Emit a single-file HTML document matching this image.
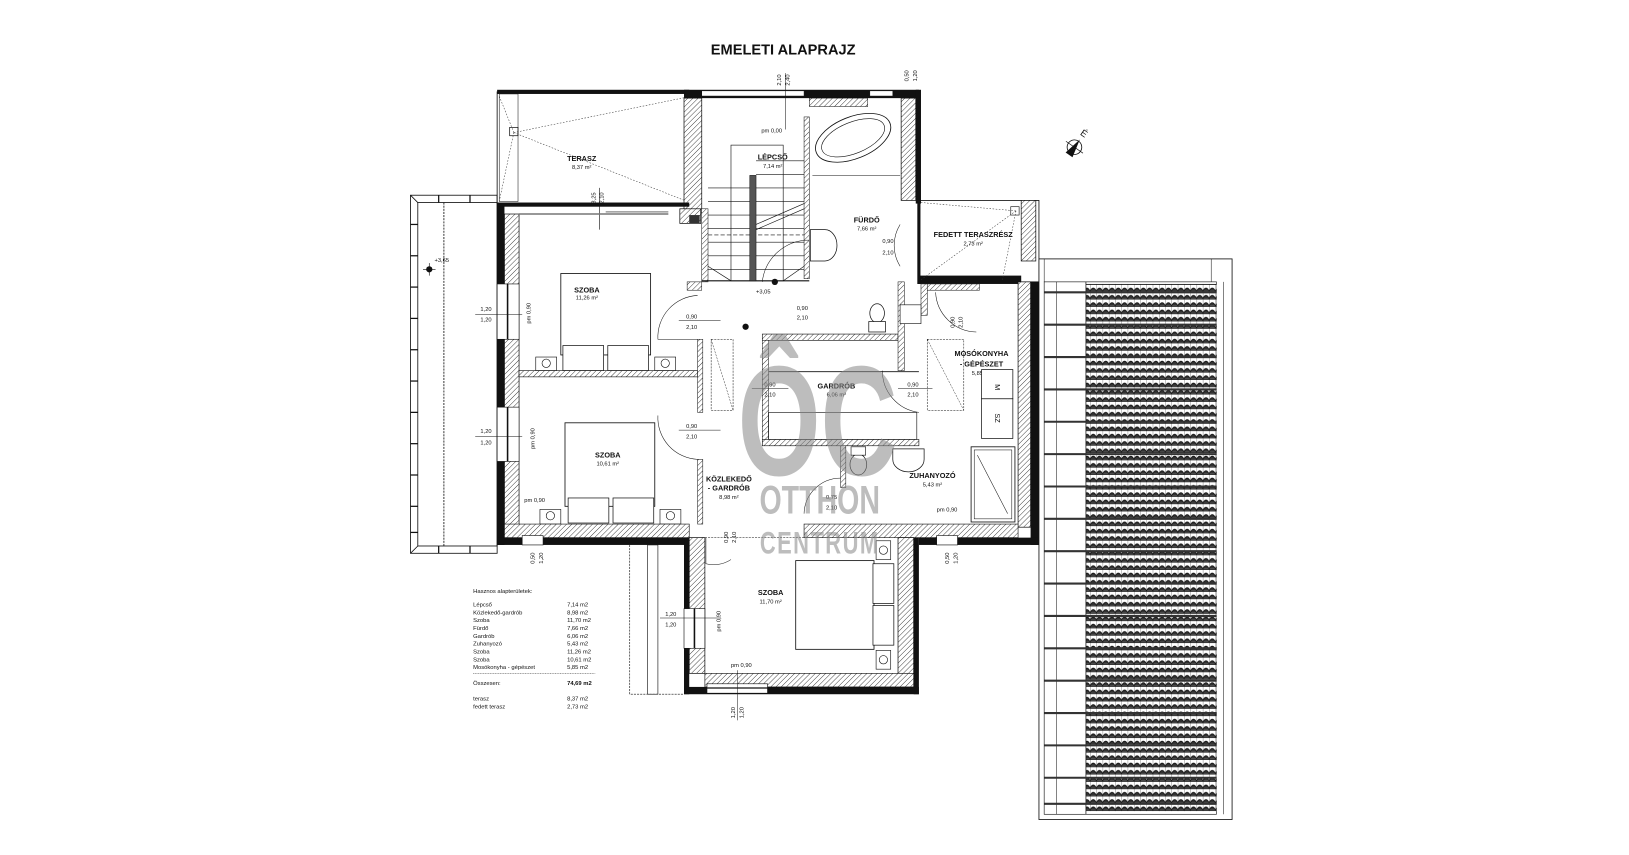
<!DOCTYPE html>
<html><head><meta charset="utf-8"><style>
html,body{margin:0;padding:0;background:#fff;}
svg{display:block;}
text{font-family:"Liberation Sans",sans-serif;fill:#111;}
.n{font-size:7px;font-weight:bold;text-anchor:middle;}
.a{font-size:5.5px;text-anchor:middle;}
.d{font-size:5.5px;}
.t{font-size:5.6px;}
</style></head><body>
<svg width="1629" height="855" viewBox="0 0 1560 819" xmlns="http://www.w3.org/2000/svg">
<defs>
<pattern id="h" width="3.5" height="3.5" patternUnits="userSpaceOnUse" patternTransform="rotate(45)">
<rect width="3.5" height="3.5" fill="#fff"/><line x1="0" y1="0" x2="0" y2="3.5" stroke="#222" stroke-width="0.8"/></pattern>
<pattern id="tile" width="6" height="7" patternUnits="userSpaceOnUse">
<rect width="6" height="7" fill="#fff"/><path d="M0 6 Q3 0 6 6" fill="#333" stroke="#111" stroke-width="0.8"/><line x1="0" y1="6.5" x2="6" y2="6.5" stroke="#111" stroke-width="0.8"/><line x1="0" y1="0" x2="0" y2="7" stroke="#111" stroke-width="0.5"/></pattern>
</defs>
<rect width="1560" height="819" fill="#fff"/>
<text x="750" y="52" style="font-size:14px;font-weight:bold;text-anchor:middle">EMELETI ALAPRAJZ</text>

<!-- left balcony -->
<g fill="none" stroke="#111" stroke-width="0.8">
<rect x="393" y="187" width="83" height="343"/>
<rect x="400" y="194" width="76" height="329"/>
<line x1="425" y1="194" x2="425" y2="523" stroke-dasharray="2,1"/>
<path d="M393 187 L400 194 M393 530 L400 523"/>
</g>
<g stroke="#111" stroke-width="1.2">
<line x1="393" y1="215" x2="400" y2="215"/><line x1="393" y1="245" x2="400" y2="245"/><line x1="393" y1="275" x2="400" y2="275"/><line x1="393" y1="305" x2="400" y2="305"/><line x1="393" y1="335" x2="400" y2="335"/><line x1="393" y1="365" x2="400" y2="365"/><line x1="393" y1="395" x2="400" y2="395"/><line x1="393" y1="425" x2="400" y2="425"/><line x1="393" y1="455" x2="400" y2="455"/><line x1="393" y1="485" x2="400" y2="485"/><line x1="393" y1="510" x2="400" y2="510"/>
<line x1="420" y1="187" x2="420" y2="194"/><line x1="450" y1="187" x2="450" y2="194"/><line x1="420" y1="523" x2="420" y2="530"/><line x1="450" y1="523" x2="450" y2="530"/>
</g>
<circle cx="411" cy="258" r="3" fill="#111"/><line x1="405" y1="258" x2="417" y2="258" stroke="#111" stroke-width="0.6"/><line x1="411" y1="252" x2="411" y2="264" stroke="#111" stroke-width="0.6"/>
<text class="d" x="416" y="251">+3,65</text>

<!-- terrace -->
<rect x="476" y="88" width="184" height="107" fill="none" stroke="#111" stroke-width="0.8"/>
<rect x="476" y="86" width="184" height="4" fill="#111"/>
<rect x="478" y="90" width="18" height="103" fill="none" stroke="#111" stroke-width="0.5"/>
<g stroke="#333" stroke-width="0.5" stroke-dasharray="1.5,1.5" fill="none">
<path d="M492 127 L658 93 M492 127 L658 193 M492 127 L478 92 M492 127 L478 193"/>
</g>
<rect x="488" y="122" width="8" height="8" fill="none" stroke="#111" stroke-width="0.7"/>
<text class="n" x="557" y="154">TERASZ</text><text class="a" x="557" y="162">8,37 m²</text>
<text class="d" transform="translate(570,195) rotate(-90)">3,25</text><text class="d" transform="translate(578,195) rotate(-90)">2,10</text>
<line x1="574" y1="180" x2="574" y2="220" stroke="#111" stroke-width="0.6"/>

<!-- stair block + bath walls -->
<rect x="655" y="86" width="225" height="8" fill="#111"/>
<rect x="672" y="87" width="98" height="5" fill="#fff" stroke="#111" stroke-width="0.5"/>
<rect x="833" y="87" width="22" height="5" fill="#fff" stroke="#111" stroke-width="0.5"/>
<rect x="655" y="94" width="17" height="110" fill="url(#h)" stroke="#111" stroke-width="0.7"/>
<rect x="651" y="200" width="20" height="14" fill="url(#h)" stroke="#111" stroke-width="0.7"/>
<rect x="660" y="206" width="10" height="8" fill="#333"/>
<rect x="672" y="200" width="6" height="70" fill="url(#h)" stroke="#111" stroke-width="0.5"/>
<rect x="770" y="112" width="5" height="155" fill="url(#h)" stroke="#111" stroke-width="0.5"/>
<rect x="775" y="94" width="56" height="8" fill="url(#h)" stroke="#111" stroke-width="0.5"/>
<rect x="863" y="94" width="14" height="98" fill="url(#h)" stroke="#111" stroke-width="0.7"/>
<rect x="877" y="86" width="5" height="109" fill="#111"/>
<!-- stairs -->
<g stroke="#111" stroke-width="0.6" fill="none">
<rect x="700" y="139" width="50" height="130"/>
<line x1="678" y1="180" x2="770" y2="180"/><line x1="678" y1="193" x2="770" y2="193"/><line x1="678" y1="206" x2="770" y2="206"/><line x1="678" y1="219" x2="770" y2="219"/><line x1="678" y1="232" x2="770" y2="232"/><line x1="678" y1="245" x2="770" y2="245"/><line x1="678" y1="258" x2="770" y2="258"/>
<line x1="724" y1="167" x2="770" y2="167"/><line x1="724" y1="154" x2="770" y2="154"/>
<path d="M724 215 L770 195 M724 220 L770 200"/>
<line x1="678" y1="225" x2="770" y2="225" stroke-dasharray="4,2"/>
<path d="M678 255 L700 269 M750 269 L770 255"/>
<line x1="672" y1="269" x2="775" y2="269" stroke-width="1"/>
</g>
<rect x="718" y="168" width="6" height="101" fill="#555" stroke="#111" stroke-width="0.5"/>
<circle cx="742" cy="270" r="3" fill="#111"/>
<text class="a" x="739" y="127">pm 0,00</text>
<line x1="752" y1="70" x2="752" y2="124" stroke="#111" stroke-width="0.5"/>
<text class="d" transform="translate(748,82) rotate(-90)">2,10</text><text class="d" transform="translate(756,82) rotate(-90)">2,40</text>
<text class="n" x="740" y="153">LÉPCSŐ</text><text class="a" x="740" y="161">7,14 m²</text>
<text class="d" x="724" y="281">+3,05</text>
<circle cx="714" cy="313" r="3" fill="#111"/>
<!-- bath -->
<ellipse cx="817" cy="132" rx="38" ry="20" transform="rotate(-22 817 132)" fill="#fff" stroke="#111" stroke-width="0.8"/>
<ellipse cx="817" cy="132" rx="32" ry="15" transform="rotate(-22 817 132)" fill="none" stroke="#111" stroke-width="0.6"/>
<line x1="778" y1="168" x2="862" y2="168" stroke="#111" stroke-width="0.5"/>
<text class="n" x="830" y="213">FÜRDŐ</text><text class="a" x="830" y="221">7,66 m²</text>
<path d="M776 220 L790 220 A10 13 0 0 1 790 250 L776 250 Z" fill="#fff" stroke="#111" stroke-width="0.7"/>
<text class="d" transform="translate(870,78) rotate(-90)">0,50</text><text class="d" transform="translate(878,78) rotate(-90)">1,20</text>
<!-- fedett terasz -->
<rect x="880" y="192" width="115" height="78" fill="none" stroke="#111" stroke-width="0.8"/>
<rect x="978" y="192" width="14" height="58" fill="url(#h)" stroke="#111" stroke-width="0.7"/>
<rect x="880" y="264" width="98" height="8" fill="#111"/>
<path d="M880 192 L880 272" stroke="#111" stroke-width="3"/>
<g stroke="#333" stroke-width="0.5" stroke-dasharray="1.5,1.5" fill="none"><path d="M973 202 L882 194 M973 202 L960 268 M973 202 L882 268"/></g>
<rect x="968" y="198" width="8" height="8" fill="none" stroke="#111" stroke-width="0.6"/>
<text class="n" x="932" y="227">FEDETT TERASZRÉSZ</text><text class="a" x="932" y="235">2,73 m²</text>
<path d="M862 215 A38 38 0 0 0 862 255" fill="none" stroke="#111" stroke-width="0.5"/>
<text class="d" x="845" y="233">0,90</text><text class="d" x="845" y="244">2,10</text>

<!-- bedrooms block -->
<rect x="476" y="195" width="7" height="327" fill="#111"/>
<rect x="483" y="205" width="14" height="305" fill="url(#h)" stroke="#111" stroke-width="0.7"/>
<rect x="476" y="272" width="21" height="53" fill="#fff" stroke="#111" stroke-width="0.6"/>
<line x1="486" y1="272" x2="486" y2="325" stroke="#111" stroke-width="1.5"/>
<rect x="476" y="390" width="21" height="52" fill="#fff" stroke="#111" stroke-width="0.6"/>
<line x1="486" y1="390" x2="486" y2="442" stroke="#111" stroke-width="1.5"/>
<rect x="476" y="194" width="184" height="4" fill="#111"/>
<line x1="497" y1="205" x2="640" y2="205" stroke="#777" stroke-width="1.5"/>
<line x1="580" y1="203" x2="640" y2="203" stroke="#111" stroke-width="0.6"/>
<text class="d" x="460" y="298">1,20</text><text class="d" x="460" y="308">1,20</text><line x1="455" y1="301" x2="500" y2="301" stroke="#111" stroke-width="0.5"/>
<text class="d" x="460" y="415">1,20</text><text class="d" x="460" y="426">1,20</text><line x1="455" y1="418" x2="500" y2="418" stroke="#111" stroke-width="0.5"/>
<text class="d" transform="translate(508,310) rotate(-90)">pm 0,90</text>
<text class="d" transform="translate(512,430) rotate(-90)">pm 0,90</text>
<!-- bed 1 -->
<rect x="537" y="262" width="86" height="78" fill="#fff" stroke="#111" stroke-width="0.8"/>
<rect x="539" y="331" width="39" height="24" fill="#fff" stroke="#111" stroke-width="0.7"/>
<rect x="582" y="331" width="39" height="24" fill="#fff" stroke="#111" stroke-width="0.7"/>
<rect x="513" y="342" width="20" height="13" fill="#fff" stroke="#111" stroke-width="0.6"/><circle cx="523" cy="348" r="4" fill="none" stroke="#111" stroke-width="0.6"/>
<rect x="627" y="342" width="20" height="13" fill="#fff" stroke="#111" stroke-width="0.6"/><circle cx="637" cy="348" r="4" fill="none" stroke="#111" stroke-width="0.6"/>
<text class="n" x="562" y="280">SZOBA</text><text class="a" x="562" y="287">11,26 m²</text>
<rect x="497" y="355" width="171" height="6" fill="url(#h)" stroke="#111" stroke-width="0.6"/>
<!-- bed 2 -->
<rect x="541" y="405" width="86" height="80" fill="#fff" stroke="#111" stroke-width="0.8"/>
<rect x="544" y="477" width="39" height="24" fill="#fff" stroke="#111" stroke-width="0.7"/>
<rect x="587" y="477" width="39" height="24" fill="#fff" stroke="#111" stroke-width="0.7"/>
<rect x="517" y="488" width="20" height="14" fill="#fff" stroke="#111" stroke-width="0.6"/><circle cx="527" cy="494" r="4" fill="none" stroke="#111" stroke-width="0.6"/>
<rect x="632" y="488" width="20" height="14" fill="#fff" stroke="#111" stroke-width="0.6"/><circle cx="642" cy="494" r="4" fill="none" stroke="#111" stroke-width="0.6"/>
<text class="n" x="582" y="438">SZOBA</text><text class="a" x="582" y="446">10,61 m²</text>
<text class="d" x="502" y="481">pm 0,90</text>
<!-- bottom wall left part -->
<rect x="483" y="502" width="177" height="13" fill="url(#h)" stroke="#111" stroke-width="0.6"/>
<rect x="476" y="515" width="184" height="7" fill="#111"/>
<rect x="500" y="513" width="20" height="9" fill="#fff" stroke="#111" stroke-width="0.6"/>
<text class="d" transform="translate(512,540) rotate(-90)">0,50</text><text class="d" transform="translate(520,540) rotate(-90)">1,20</text>

<!-- corridor walls -->
<rect x="658" y="270" width="14" height="8" fill="url(#h)" stroke="#111" stroke-width="0.5"/>
<rect x="668" y="325" width="5" height="70" fill="url(#h)" stroke="#111" stroke-width="0.5"/>
<rect x="668" y="440" width="5" height="62" fill="url(#h)" stroke="#111" stroke-width="0.5"/>
<path d="M668 283 A40 40 0 0 0 630 325 L668 325" fill="none" stroke="#111" stroke-width="0.5"/>
<path d="M668 440 A40 40 0 0 1 630 398" fill="none" stroke="#111" stroke-width="0.5"/>
<text class="d" x="657" y="305">0,90</text><text class="d" x="657" y="315">2,10</text><line x1="650" y1="307" x2="690" y2="307" stroke="#111" stroke-width="0.5"/>
<text class="d" x="657" y="410">0,90</text><text class="d" x="657" y="420">2,10</text><line x1="650" y1="412" x2="690" y2="412" stroke="#111" stroke-width="0.5"/>
<rect x="681" y="325" width="21" height="68" fill="none" stroke="#111" stroke-width="0.5" stroke-dasharray="2,1"/>
<line x1="681" y1="325" x2="702" y2="393" stroke="#111" stroke-width="0.4" stroke-dasharray="2,1"/>
<text class="n" x="698" y="461">KÖZLEKEDŐ</text><text class="n" x="698" y="470">- GARDRÓB</text><text class="a" x="698" y="478">8,98 m²</text>
<path d="M730 270 A45 45 0 0 1 775 230" fill="none" stroke="#111" stroke-width="0.5"/>
<text class="d" x="763" y="297">0,90</text><text class="d" x="763" y="306">2,10</text>

<!-- gardrob -->
<rect x="730" y="320" width="130" height="6" fill="url(#h)" stroke="#111" stroke-width="0.6"/>
<rect x="730" y="326" width="6" height="100" fill="url(#h)" stroke="#111" stroke-width="0.5"/>
<line x1="736" y1="356" x2="880" y2="356" stroke="#111" stroke-width="0.8"/>
<rect x="736" y="395" width="142" height="26" fill="none" stroke="#111" stroke-width="0.6"/>
<rect x="730" y="421" width="150" height="6" fill="url(#h)" stroke="#111" stroke-width="0.6"/>
<rect x="860" y="270" width="6" height="85" fill="url(#h)" stroke="#111" stroke-width="0.5"/>
<rect x="882" y="272" width="6" height="30" fill="url(#h)" stroke="#111" stroke-width="0.5"/>
<rect x="888" y="272" width="50" height="6" fill="url(#h)" stroke="#111" stroke-width="0.5"/>
<text class="n" x="801" y="372">GARDRÓB</text><text class="a" x="801" y="380">6,06 m²</text>
<text class="d" x="732" y="370">0,90</text><text class="d" x="732" y="380">2,10</text><line x1="720" y1="372" x2="755" y2="372" stroke="#111" stroke-width="0.5"/>
<text class="d" x="869" y="370">0,90</text><text class="d" x="869" y="380">2,10</text><line x1="860" y1="372" x2="893" y2="372" stroke="#111" stroke-width="0.5"/>
<path d="M845 355 A40 40 0 0 0 880 395" fill="none" stroke="#111" stroke-width="0.5"/>
<!-- wc in bath -->
<ellipse cx="840" cy="300" rx="7" ry="9" fill="#fff" stroke="#111" stroke-width="0.7"/><rect x="832" y="308" width="16" height="10" fill="#fff" stroke="#111" stroke-width="0.7"/>
<rect x="862" y="292" width="20" height="18" fill="#fff" stroke="#111" stroke-width="0.6"/>
<!-- mosokonyha -->
<rect x="888" y="325" width="35" height="68" fill="none" stroke="#111" stroke-width="0.5" stroke-dasharray="2,1"/>
<line x1="888" y1="325" x2="923" y2="393" stroke="#111" stroke-width="0.4" stroke-dasharray="2,1"/>
<text class="n" x="940" y="341">MOSÓKONYHA</text><text class="n" x="940" y="351">- GÉPÉSZET</text><text class="a" x="940" y="359">5,85 m²</text>
<rect x="940" y="354" width="30" height="28" fill="#fff" stroke="#111" stroke-width="0.7"/>
<rect x="940" y="382" width="30" height="38" fill="#fff" stroke="#111" stroke-width="0.7"/>
<text class="d" transform="translate(953,368) rotate(90)" style="font-size:7px">M</text>
<text class="d" transform="translate(953,396) rotate(90)" style="font-size:7px">SZ</text>
<path d="M896 280 A40 40 0 0 0 935 318" fill="none" stroke="#111" stroke-width="0.5"/>
<text class="d" transform="translate(914,314) rotate(-90)">0,90</text><text class="d" transform="translate(922,314) rotate(-90)">2,10</text>
<!-- right wall -->
<rect x="975" y="270" width="12" height="235" fill="url(#h)" stroke="#111" stroke-width="0.7"/>
<rect x="987" y="270" width="8" height="252" fill="#111"/>
<!-- zuhanyozo -->
<rect x="805" y="427" width="5" height="40" fill="url(#h)" stroke="#111" stroke-width="0.5"/>
<ellipse cx="822" cy="445" rx="8" ry="10" fill="#fff" stroke="#111" stroke-width="0.7"/><rect x="815" y="428" width="14" height="8" fill="#fff" stroke="#111" stroke-width="0.6"/>
<path d="M855 430 L885 430 L885 440 A15 12 0 0 1 855 440 Z" fill="#fff" stroke="#111" stroke-width="0.7"/>
<rect x="930" y="428" width="42" height="72" fill="#fff" stroke="#111" stroke-width="0.8"/>
<rect x="933" y="431" width="36" height="66" fill="none" stroke="#111" stroke-width="0.5"/>
<line x1="936" y1="436" x2="965" y2="492" stroke="#111" stroke-width="0.5"/>
<text class="n" x="893" y="458">ZUHANYOZÓ</text><text class="a" x="893" y="466">5,43 m²</text>
<text class="d" x="897" y="490">pm 0,90</text>
<path d="M770 492 A35 35 0 0 1 805 458" fill="none" stroke="#111" stroke-width="0.5"/>
<text class="d" x="791" y="478">0,75</text><text class="d" x="791" y="488">2,10</text>
<!-- bottom wall right part -->
<rect x="770" y="502" width="205" height="13" fill="url(#h)" stroke="#111" stroke-width="0.6"/>
<rect x="880" y="515" width="115" height="7" fill="#111"/>
<rect x="897" y="513" width="20" height="9" fill="#fff" stroke="#111" stroke-width="0.6"/>
<text class="d" transform="translate(909,540) rotate(-90)">0,50</text><text class="d" transform="translate(917,540) rotate(-90)">1,20</text>

<!-- bottom room -->
<rect x="660" y="515" width="15" height="130" fill="url(#h)" stroke="#111" stroke-width="0.7"/>
<rect x="655" y="515" width="5" height="150" fill="#111"/>
<rect x="655" y="583" width="20" height="38" fill="#fff" stroke="#111" stroke-width="0.6"/>
<line x1="665" y1="583" x2="665" y2="621" stroke="#111" stroke-width="1.5"/>
<rect x="860" y="515" width="15" height="130" fill="url(#h)" stroke="#111" stroke-width="0.7"/>
<rect x="875" y="515" width="5" height="150" fill="#111"/>
<rect x="675" y="645" width="200" height="13" fill="url(#h)" stroke="#111" stroke-width="0.6"/>
<rect x="655" y="658" width="225" height="7" fill="#111"/>
<rect x="677" y="655" width="58" height="9" fill="#fff" stroke="#111" stroke-width="0.6"/>
<line x1="677" y1="659" x2="735" y2="659" stroke="#111" stroke-width="1.2"/>
<rect x="762" y="537" width="75" height="85" fill="#fff" stroke="#111" stroke-width="0.8"/>
<rect x="836" y="540" width="20" height="38" fill="#fff" stroke="#111" stroke-width="0.7"/>
<rect x="836" y="580" width="20" height="38" fill="#fff" stroke="#111" stroke-width="0.7"/>
<rect x="839" y="518" width="14" height="18" fill="#fff" stroke="#111" stroke-width="0.6"/><circle cx="846" cy="527" r="4" fill="none" stroke="#111" stroke-width="0.6"/>
<rect x="839" y="623" width="14" height="18" fill="#fff" stroke="#111" stroke-width="0.6"/><circle cx="846" cy="632" r="4" fill="none" stroke="#111" stroke-width="0.6"/>
<text class="n" x="738" y="570">SZOBA</text><text class="a" x="738" y="578">11,70 m²</text>
<text class="d" x="700" y="639">pm 0,90</text>
<line x1="706" y1="642" x2="706" y2="690" stroke="#111" stroke-width="0.5"/>
<text class="d" transform="translate(704,688) rotate(-90)">1,20</text><text class="d" transform="translate(712,688) rotate(-90)">1,20</text>
<text class="d" x="637" y="590">1,20</text><text class="d" x="637" y="600">1,20</text><line x1="632" y1="592" x2="690" y2="592" stroke="#111" stroke-width="0.5"/>
<text class="d" transform="translate(690,605) rotate(-90)">pm 0,90</text>
<path d="M676 515 L676 540 A30 30 0 0 0 700 536" fill="none" stroke="#111" stroke-width="0.5"/>
<text class="d" transform="translate(697,520) rotate(-90)">0,90</text><text class="d" transform="translate(705,520) rotate(-90)">2,10</text>
<line x1="672" y1="515" x2="770" y2="515" stroke="#111" stroke-width="0.5" stroke-dasharray="2,1"/>
<!-- dashed balcony below -->
<g fill="none" stroke="#111" stroke-width="0.6">
<path d="M603 522 L603 665 L655 665" stroke-dasharray="2,1"/>
<rect x="620" y="522" width="10" height="143"/>
</g>

<!-- roof tiles -->
<rect x="995" y="248" width="185" height="537" fill="#fff" stroke="#111" stroke-width="0.8"/>
<rect x="1000" y="270" width="165" height="510" fill="none" stroke="#111" stroke-width="0.6"/>
<rect x="1040" y="272" width="125" height="505" fill="url(#tile)"/>
<line x1="1040" y1="270" x2="1040" y2="780" stroke="#111" stroke-width="0.7"/>
<line x1="1012" y1="270" x2="1012" y2="780" stroke="#111" stroke-width="0.5"/>
<line x1="1000" y1="248" x2="1000" y2="270" stroke="#111" stroke-width="0.5"/>
<line x1="1160" y1="248" x2="1160" y2="270" stroke="#111" stroke-width="0.5"/>
<line x1="1172" y1="270" x2="1172" y2="780" stroke="#111" stroke-width="0.5"/>
<g stroke="#333" stroke-width="2">
<line x1="1000" y1="280" x2="1165" y2="280"/><line x1="1000" y1="311" x2="1165" y2="311"/><line x1="1000" y1="342" x2="1165" y2="342"/><line x1="1000" y1="373" x2="1165" y2="373"/><line x1="1000" y1="404" x2="1165" y2="404"/><line x1="1000" y1="435" x2="1165" y2="435"/><line x1="1000" y1="466" x2="1165" y2="466"/><line x1="1000" y1="497" x2="1165" y2="497"/><line x1="1000" y1="528" x2="1165" y2="528"/><line x1="1000" y1="559" x2="1165" y2="559"/><line x1="1000" y1="590" x2="1165" y2="590"/><line x1="1000" y1="621" x2="1165" y2="621"/><line x1="1000" y1="652" x2="1165" y2="652"/><line x1="1000" y1="683" x2="1165" y2="683"/><line x1="1000" y1="714" x2="1165" y2="714"/><line x1="1000" y1="745" x2="1165" y2="745"/><line x1="1000" y1="770" x2="1165" y2="770"/>
</g>

<!-- compass -->
<g transform="translate(1029,141) rotate(35)">
<circle r="7" fill="#fff" stroke="#111" stroke-width="0.8"/>
<line x1="-10" y1="0" x2="10" y2="0" stroke="#111" stroke-width="0.6"/>
<path d="M0 -9 L-4 9 L4 9 Z" fill="#111"/>
<text x="-3" y="-13" style="font-size:9px">É</text>
</g>

<!-- table -->
<g class="t">
<text class="t" x="453" y="568">Hasznos alapterületek:</text>
<text class="t" x="453" y="581">Lépcső</text><text class="t" x="543" y="581">7,14 m2</text>
<text class="t" x="453" y="588.5">Közlekedő-gardrób</text><text class="t" x="543" y="588.5">8,98 m2</text>
<text class="t" x="453" y="596">Szoba</text><text class="t" x="543" y="596">11,70 m2</text>
<text class="t" x="453" y="603.5">Fürdő</text><text class="t" x="543" y="603.5">7,66 m2</text>
<text class="t" x="453" y="611">Gardrób</text><text class="t" x="543" y="611">6,06 m2</text>
<text class="t" x="453" y="618.5">Zuhanyozó</text><text class="t" x="543" y="618.5">5,43 m2</text>
<text class="t" x="453" y="626">Szoba</text><text class="t" x="543" y="626">11,26 m2</text>
<text class="t" x="453" y="633.5">Szoba</text><text class="t" x="543" y="633.5">10,61 m2</text>
<text class="t" x="453" y="641">Mosókonyha - gépészet</text><text class="t" x="543" y="641">5,85 m2</text>
<line x1="453" y1="645" x2="570" y2="645" stroke="#111" stroke-width="0.4" stroke-dasharray="1,0.6"/>
<text class="t" x="453" y="656">Összesen:</text><text class="t" x="543" y="656" style="font-weight:bold">74,69 m2</text>
<text class="t" x="453" y="671">terasz</text><text class="t" x="543" y="671">8,37 m2</text>
<text class="t" x="453" y="678.5">fedett terasz</text><text class="t" x="543" y="678.5">2,73 m2</text>
</g>

<!-- watermark -->
<g opacity="0.55">
<text x="783" y="455" style="font-family:'Liberation Sans Narrow','Liberation Sans',sans-serif;font-weight:bold;font-size:150px;fill:#888;text-anchor:middle" transform="translate(783,0) scale(0.68,1) translate(-783,0)">ÔC</text>
<text x="785" y="492" style="font-family:'Liberation Sans Narrow','Liberation Sans',sans-serif;font-weight:bold;font-size:38px;fill:#888;text-anchor:middle" transform="translate(785,0) scale(0.72,1) translate(-785,0)">OTTHON</text>
<text x="785" y="530" style="font-family:'Liberation Sans Narrow','Liberation Sans',sans-serif;font-weight:bold;font-size:30px;fill:#888;text-anchor:middle;letter-spacing:2px" transform="translate(785,0) scale(0.7,1) translate(-785,0)">CENTRUM</text>
</g>
</svg>
</body></html>
